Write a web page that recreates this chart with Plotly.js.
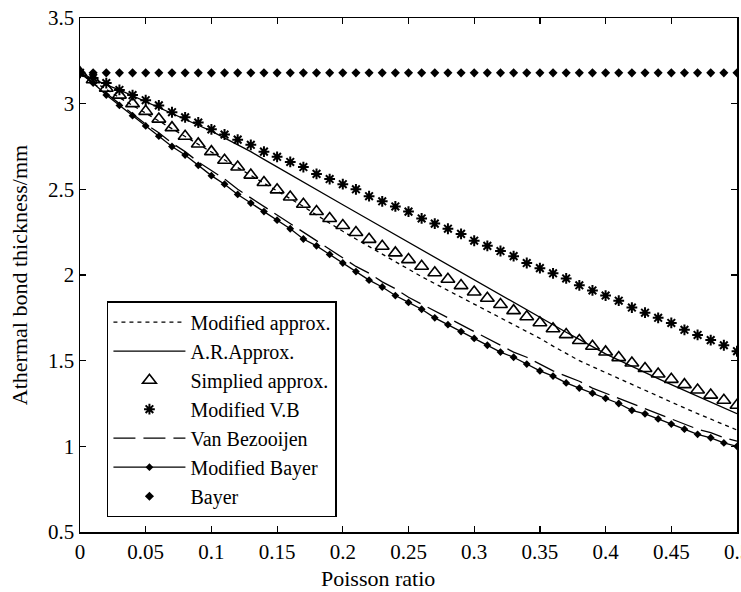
<!DOCTYPE html>
<html>
<head>
<meta charset="utf-8">
<script src="https://cdn.plot.ly/plotly-3.0.1.min.js"></script>
<style>html,body{margin:0;padding:0;background:#fff;}#chart{width:741px;height:592px;}</style>
</head>
<body>
<div id="chart"></div>
<script>
const poisson = [0,0.01,0.02,0.03,0.04,0.05,0.06,0.07,0.08,0.09,0.10,0.11,0.12,0.13,0.14,0.15,0.16,0.17,0.18,0.19,0.20,0.21,0.22,0.23,0.24,0.25,0.26,0.27,0.28,0.29,0.30,0.31,0.32,0.33,0.34,0.35,0.36,0.37,0.38,0.39,0.40,0.41,0.42,0.43,0.44,0.45,0.46,0.47,0.48,0.49,0.50];

const modifiedApprox = [3.18,3.13,3.08,3.035,2.99,2.945,2.90,2.855,2.81,2.765,2.72,2.675,2.63,2.585,2.54,2.495,2.45,2.40,2.35,2.30,2.255,2.21,2.165,2.12,2.075,2.03,1.99,1.95,1.91,1.87,1.83,1.79,1.75,1.71,1.67,1.63,1.585,1.54,1.50,1.465,1.43,1.395,1.36,1.325,1.29,1.257,1.224,1.191,1.158,1.125,1.095];

const arApprox = [3.18,3.145,3.11,3.08,3.045,3.01,2.976,2.942,2.908,2.874,2.84,2.80,2.76,2.72,2.675,2.63,2.586,2.542,2.498,2.454,2.41,2.366,2.322,2.278,2.234,2.19,2.146,2.102,2.058,2.014,1.97,1.926,1.882,1.838,1.794,1.75,1.708,1.666,1.624,1.582,1.54,1.503,1.466,1.43,1.395,1.36,1.326,1.292,1.258,1.224,1.19];

const simpliedApprox = [3.18,3.14,3.09,3.05,3.00,2.955,2.91,2.86,2.81,2.765,2.72,2.67,2.63,2.583,2.54,2.497,2.455,2.413,2.371,2.33,2.289,2.248,2.208,2.168,2.129,2.09,2.051,2.013,1.975,1.938,1.901,1.864,1.828,1.792,1.756,1.721,1.686,1.652,1.618,1.584,1.551,1.518,1.486,1.454,1.422,1.391,1.36,1.329,1.299,1.269,1.24];

const modifiedVB = [3.18,3.15,3.12,3.08,3.05,3.02,2.99,2.95,2.92,2.89,2.85,2.82,2.79,2.76,2.72,2.69,2.66,2.63,2.59,2.56,2.53,2.50,2.46,2.43,2.40,2.37,2.33,2.30,2.27,2.24,2.20,2.17,2.14,2.11,2.07,2.04,2.01,1.98,1.94,1.91,1.88,1.85,1.81,1.78,1.75,1.72,1.68,1.65,1.62,1.59,1.555];

const vanBezooijen = [3.18,3.12,3.06,3.00,2.94,2.88,2.83,2.77,2.72,2.66,2.61,2.56,2.50,2.45,2.40,2.35,2.30,2.25,2.20,2.15,2.10,2.05,2.01,1.96,1.92,1.87,1.83,1.79,1.75,1.71,1.67,1.63,1.59,1.55,1.52,1.48,1.44,1.41,1.38,1.34,1.31,1.28,1.25,1.22,1.19,1.16,1.13,1.10,1.08,1.05,1.03];

const modifiedBayer = [3.18,3.12,3.05,2.99,2.93,2.87,2.81,2.75,2.70,2.64,2.58,2.53,2.47,2.42,2.37,2.32,2.27,2.21,2.17,2.12,2.07,2.02,1.97,1.93,1.88,1.84,1.80,1.75,1.71,1.67,1.63,1.59,1.55,1.52,1.48,1.44,1.41,1.37,1.34,1.31,1.28,1.25,1.21,1.19,1.16,1.13,1.10,1.07,1.05,1.02,1.00];

const bayer = [3.18,3.18,3.18,3.18,3.18,3.18,3.18,3.18,3.18,3.18,3.18,3.18,3.18,3.18,3.18,3.18,3.18,3.18,3.18,3.18,3.18,3.18,3.18,3.18,3.18,3.18,3.18,3.18,3.18,3.18,3.18,3.18,3.18,3.18,3.18,3.18,3.18,3.18,3.18,3.18,3.18,3.18,3.18,3.18,3.18,3.18,3.18,3.18,3.18,3.18,3.18];

const xTicks = [0,0.05,0.1,0.15,0.2,0.25,0.3,0.35,0.4,0.45,0.5];
const xTickText = ['0','0.05','0.1','0.15','0.2','0.25','0.3','0.35','0.4','0.45','0.5'];
const yTicks = [0.5,1,1.5,2,2.5,3,3.5];
const yTickText = ['0.5','1','1.5','2','2.5','3','3.5'];
const xTitle = 'Poisson ratio';
const yTitle = 'Athermal bond thickness/mm';

const serif = 'Liberation Serif, Times New Roman, DejaVu Serif, serif';
const K = '#000';

const traces = [
  {name:'Modified approx.', legendgroup:'g1', x:poisson, y:modifiedApprox, mode:'lines',
   line:{color:K, width:1.3, dash:'4px,4px'}},
  {name:'A.R.Approx.', legendgroup:'g2', x:poisson, y:arApprox, mode:'lines',
   line:{color:K, width:1.3}},
  {name:'Simplied approx.', legendgroup:'g3', x:poisson, y:simpliedApprox, mode:'markers',
   marker:{symbol:'triangle-up-open', size:12, color:K, line:{color:K, width:1.6}}},
  {name:'Modified V.B', legendgroup:'g4', x:poisson, y:modifiedVB, mode:'markers',
   marker:{symbol:'asterisk-open', size:9, color:K, line:{color:K, width:2}}},
  {name:'Van Bezooijen', legendgroup:'g5', x:poisson, y:vanBezooijen, mode:'lines',
   line:{color:K, width:1.3, dash:'22px,8px'}},
  {name:'Modified Bayer', legendgroup:'g6', x:poisson, y:modifiedBayer, mode:'lines+markers',
   line:{color:K, width:1.3}, marker:{symbol:'diamond', size:6, color:K}},
  {name:'Bayer', legendgroup:'g7', x:poisson, y:bayer, mode:'markers',
   marker:{symbol:'diamond', size:7, color:K}}
];

const layout = {
  width:741, height:592,
  margin:{l:80, r:4, t:18, b:60},
  paper_bgcolor:'#fff', plot_bgcolor:'#fff',
  font:{family:serif, color:K, size:18},
  showlegend:true,
  legend:{x:0.041, y:0.449, xanchor:'left', yanchor:'top',
    bgcolor:'#fff', bordercolor:K, borderwidth:1.5,
    font:{family:serif, size:20, color:K}, itemwidth:72, tracegroupgap:0},
  xaxis:{range:[0,0.5], tickvals:xTicks, ticktext:xTickText,
    showline:true, linecolor:K, linewidth:1.5, mirror:'ticks',
    ticks:'inside', ticklen:6, tickwidth:1.2, tickcolor:K,
    showgrid:false, zeroline:false, ticklabeloverflow:'allow',
    tickfont:{family:serif, size:21, color:K}},
  yaxis:{range:[0.5,3.5], tickvals:yTicks, ticktext:yTickText,
    showline:true, linecolor:K, linewidth:1.5, mirror:'ticks',
    ticks:'inside', ticklen:6, tickwidth:1.2, tickcolor:K,
    showgrid:false, zeroline:false, ticklabeloverflow:'allow',
    tickfont:{family:serif, size:21, color:K},
    title:{text:yTitle, font:{family:serif, size:22, color:K}, standoff:14}},
  annotations:[{text:xTitle, xref:'paper', yref:'paper', x:0.4536, y:-0.0895,
    xanchor:'center', yanchor:'middle', showarrow:false,
    font:{family:serif, size:22, color:K}}]
};

Plotly.newPlot('chart', traces, layout, {displayModeBar:false, staticPlot:true});
</script>
</body>
</html>
